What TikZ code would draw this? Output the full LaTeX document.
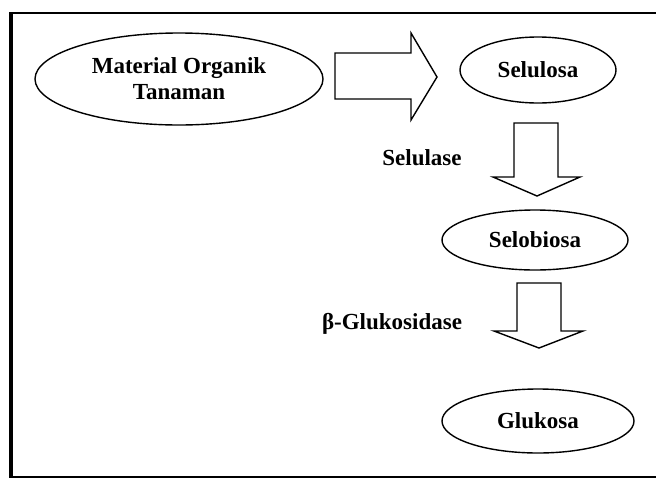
\documentclass[tikz,border=0pt]{standalone}
\usepackage{fontspec}
\setmainfont{Liberation Serif}
\usetikzlibrary{shapes.geometric}
\begin{document}
\begin{tikzpicture}[x=1pt,y=-1pt,
  every node/.style={font=\bfseries\fontsize{23}{26}\selectfont},
  oval/.style={draw,ellipse,line width=1.4pt,inner sep=0pt,align=center},
  blockarrow/.style={draw,line width=1.4pt,line join=miter},
  label/.style={inner sep=0pt}]
\useasboundingbox (0,0) rectangle (656,480);
\begin{scope}
\clip (0,0) rectangle (656,480);
\draw[line width=2pt] (662,13) -- (10,13);
\draw[line width=2pt] (10,477) -- (662,477);
\draw[line width=3.5pt] (11,12) -- (11,478);
\end{scope}
% nodes
\node[oval,minimum width=288pt,minimum height=92pt] (mat) at (179,79) {Material Organik\\Tanaman};
\node[oval,minimum width=156pt,minimum height=66pt] (sel) at (538,70) {Selulosa};
\node[oval,minimum width=186pt,minimum height=60pt] (sbi) at (535,240) {Selobiosa};
\node[oval,minimum width=192pt,minimum height=64pt] (glu) at (538,421) {Glukosa};
\node[label] (enz1) at (422,158) {Selulase};
\node[label] (enz2) at (392,324) {β-Glukosidase};
% block arrows
\draw[blockarrow] (335,53) -- (411,53) -- (411,33) -- (437,77) -- (411,120) -- (411,99) -- (335,99) -- cycle;
\draw[blockarrow] (514,123) -- (558,123) -- (558,177) -- (580,177) -- (537,196) -- (493,177) -- (514,177) -- cycle;
\draw[blockarrow] (517,283) -- (561,283) -- (561,331) -- (583,331) -- (539,348) -- (494,331) -- (517,331) -- cycle;
\end{tikzpicture}
\end{document}
